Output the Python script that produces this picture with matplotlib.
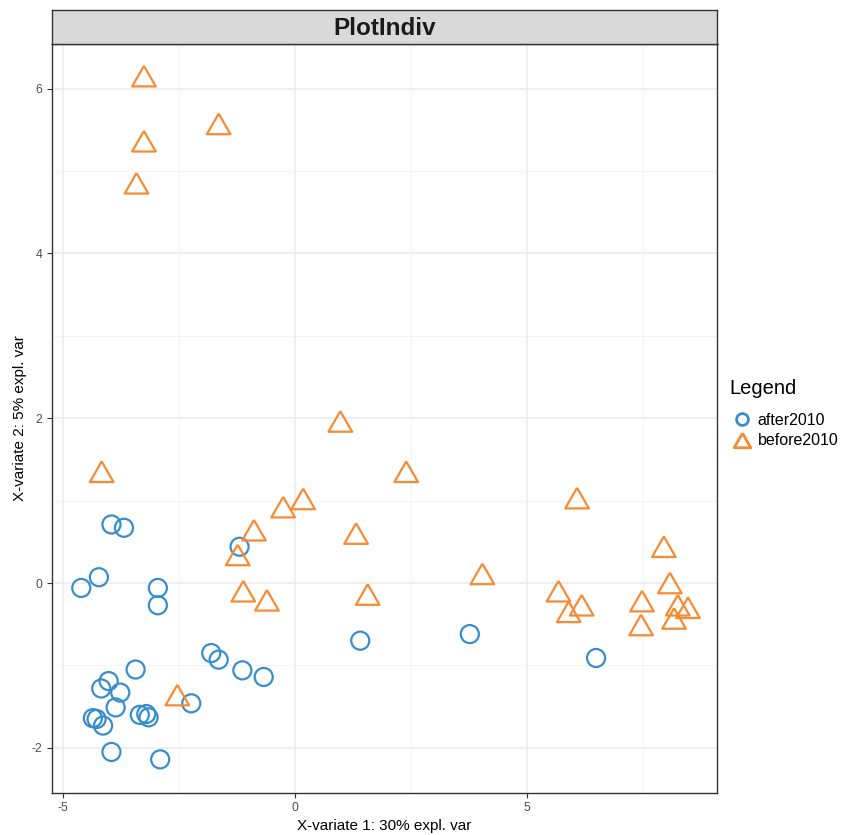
import matplotlib.pyplot as plt
from matplotlib.lines import Line2D
import numpy as np

plt.rcParams['font.family'] = ['Liberation Sans', 'DejaVu Sans']
plt.rcParams['axes.unicode_minus'] = False

# sample scores on the first two X-variates
after_x = [-3.95, -3.68, -4.22, -4.60, -2.95, -2.95, -1.19, -1.80, -1.64, -3.43,
           -1.13, -0.67, -4.01, -4.17, -3.76, -3.86, -2.23, -4.35, -4.27, -4.13,
           -3.34, -3.20, -3.15, -3.95, -2.90, 1.41, 3.77, 6.49]
after_y = [0.71, 0.67, 0.07, -0.06, -0.06, -0.27, 0.44, -0.85, -0.93, -1.05,
           -1.06, -1.14, -1.19, -1.28, -1.33, -1.51, -1.46, -1.64, -1.65, -1.73,
           -1.60, -1.59, -1.63, -2.05, -2.14, -0.70, -0.62, -0.91]

before_x = [-3.25, -3.25, -3.41, -1.64, -4.16, 0.98, 2.40, 0.18, -0.25, -0.88,
            -1.23, 1.32, -1.11, -0.60, 1.57, 4.04, -2.53, 6.08, 5.68, 5.90,
            6.18, 7.48, 7.46, 7.95, 8.08, 8.25, 8.47, 8.17]
before_y = [6.15, 5.36, 4.85, 5.57, 1.35, 1.96, 1.35, 1.02, 0.92, 0.64,
            0.34, 0.60, -0.10, -0.21, -0.14, 0.11, -1.36, 1.03, -0.10, -0.35,
            -0.27, -0.22, -0.51, 0.44, 0.00, -0.27, -0.30, -0.43]

groups = ['after2010', 'before2010']
colors = ['#388ECC', '#F68B33']

tri = [(0, 0.87), (-1, -0.87), (1, -0.87), (0, 0.87)]

fig = plt.figure(figsize=(8.6, 8.35), dpi=100)
ax = fig.add_axes([0.0605, 0.0506, 0.7735, 0.8967])

ax.scatter(after_x, after_y, s=13**2, marker='o', facecolors='none',
           edgecolors=colors[0], linewidths=1.6, zorder=3)
ax.scatter(before_x, before_y, s=17**2, marker=tri, facecolors='none',
           edgecolors=colors[1], linewidths=1.6, zorder=3)

ax.set_xlim(-5.23, 9.10)
ax.set_ylim(-2.545, 6.54)
ax.set_xticks([-5, 0, 5])
ax.set_yticks([-2, 0, 2, 4, 6])
ax.set_xticks([-2.5, 2.5, 7.5], minor=True)
ax.set_yticks([-1, 1, 3, 5], minor=True)
ax.grid(True, which='major', color='#EBEBEB', lw=1.1, zorder=0)
ax.grid(True, which='minor', color='#F2F2F2', lw=0.6, zorder=0)
ax.tick_params(which='minor', length=0)
ax.tick_params(which='major', length=3.5, width=0.8, color='#333333',
               labelsize=8.8, labelcolor='#4D4D4D')
for s in ax.spines.values():
    s.set_color('#333333')
    s.set_linewidth(1.0)

ax.set_xlabel('X-variate 1: 30% expl. var', fontsize=11, labelpad=3)
ax.set_ylabel('X-variate 2: 5% expl. var', fontsize=11, labelpad=3)

# facet strip
strip = fig.add_axes([0.0605, 0.9473, 0.7735, 0.0407])
strip.set_facecolor('#D9D9D9')
strip.set_xticks([])
strip.set_yticks([])
for s in strip.spines.values():
    s.set_color('#333333')
    s.set_linewidth(1.0)
strip.text(0.5, 0.47, 'PlotIndiv', ha='center', va='center',
           fontsize=17.5, fontweight='bold', color='#1A1A1A')

# legend
fig.text(0.8477, 1 - 389 / 835, 'Legend', ha='left', va='center', fontsize=14.5)
handles = [
    Line2D([], [], ls='none', marker='o', ms=8.5, mfc='none', mec=colors[0], mew=2),
    Line2D([], [], ls='none', marker=tri, ms=12, mfc='none', mec=colors[1], mew=2),
]
fig.legend(handles, groups, loc='center left',
           bbox_to_anchor=(0.852, 1 - 430.5 / 835), frameon=False, fontsize=11.5,
           borderpad=0, borderaxespad=0, handlelength=1.2, handletextpad=0.35,
           labelspacing=0.35)

fig.savefig('out.png', dpi=100)
